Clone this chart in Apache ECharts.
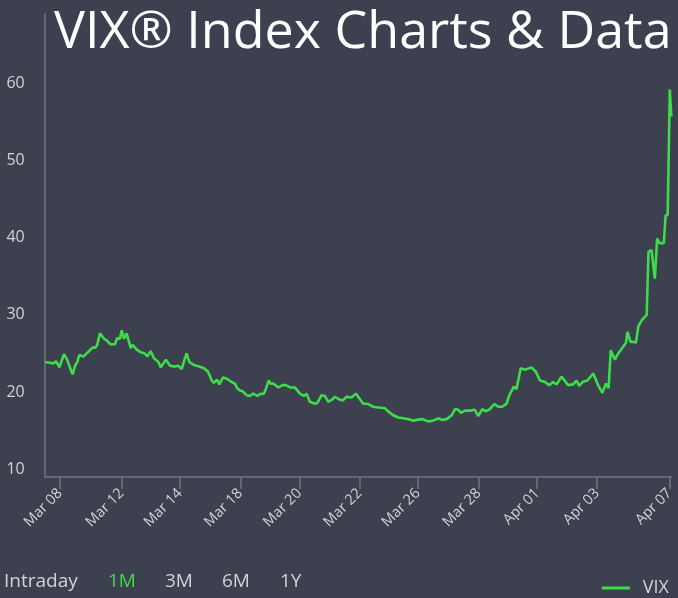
<!DOCTYPE html>
<html>
<head>
<meta charset="utf-8">
<script src="https://cdn.jsdelivr.net/npm/echarts@6/dist/echarts.min.js"></script>
<style>
html,body{margin:0;padding:0;background:#3d404e;}
#chart{width:678px;height:598px;}
</style>
</head>
<body>
<div id="chart"></div>
<script>
// Time in trading days from the start of the window
const times = [
 0.01,0.18,0.29,0.38,0.49,0.64,0.75,0.82,0.93,1.02,1.09,1.15,1.29,1.45,1.60,1.68,1.75,1.84,1.98,2.07,
 2.18,2.34,2.42,2.51,2.57,2.64,2.73,2.79,2.87,2.93,3.07,3.18,3.34,3.42,3.53,3.64,3.79,3.87,4.04,4.18,
 4.34,4.45,4.57,4.64,4.73,4.82,4.98,5.15,5.31,5.45,5.57,5.64,5.75,5.82,5.95,6.09,6.23,6.34,6.42,6.51,
 6.60,6.73,6.84,6.95,7.09,7.18,7.31,7.40,7.47,7.53,7.62,7.79,7.93,8.04,8.18,8.34,8.51,8.64,8.73,8.84,
 9.01,9.09,9.23,9.34,9.45,9.57,9.68,9.79,9.93,10.07,10.23,10.38,10.45,10.62,10.79,10.95,11.12,11.34,11.45,11.62,
 11.79,11.95,12.12,12.29,12.40,12.57,12.73,12.84,13.01,13.12,13.25,13.40,13.57,13.68,13.79,13.88,14.01,14.18,14.34,14.45,
 14.59,14.70,14.84,14.99,15.12,15.25,15.40,15.49,15.64,15.73,15.87,16.01,16.23,16.38,16.51,16.68,16.82,16.95,17.07,17.23,
 17.45,17.62,17.73,17.82,17.93,18.09,18.29,18.45,18.59,18.71,18.80,18.87,19.01,19.12,19.29,19.38,19.43,19.53,19.64,19.71,
 19.79,19.90,20.07,20.13,20.23,20.34,20.42,20.49,20.64,20.70,20.77,20.80,20.84,20.89
];
const vixValues = [
 23.9,23.8,23.7,24.0,23.2,24.9,24.2,23.4,22.3,23.5,23.9,24.8,24.6,25.2,25.8,25.7,26.1,27.6,26.9,26.7,
 26.2,26.2,27.0,26.9,28.0,26.9,27.6,27.5,25.7,26.1,25.5,25.2,25.0,24.6,25.3,24.4,23.9,23.2,24.2,23.4,
 23.3,23.4,23.0,23.9,25.0,23.9,23.5,23.3,23.1,22.6,21.5,21.2,21.6,21.0,21.9,21.7,21.3,21.1,20.5,20.2,
 20.1,19.6,19.5,19.8,19.5,19.75,19.8,20.7,21.5,21.1,21.1,20.6,20.9,20.9,20.6,20.6,19.8,19.5,19.8,18.75,
 18.5,18.6,19.6,19.5,18.75,19.0,19.4,19.1,18.9,19.4,19.3,19.8,19.4,18.5,18.45,18.1,18.0,17.9,17.5,17.0,
 16.7,16.6,16.5,16.3,16.4,16.5,16.3,16.2,16.4,16.6,16.4,16.5,17.0,17.8,17.7,17.3,17.6,17.6,17.7,16.9,
 17.8,17.5,17.8,18.45,18.1,18.1,18.5,19.6,20.7,20.4,23.1,22.9,23.2,22.6,21.5,21.3,20.9,21.3,21.0,22.0,
 20.9,21.0,21.5,20.8,21.3,21.5,22.4,20.9,19.9,21.1,20.5,25.4,24.2,25.0,25.9,26.4,27.8,26.5,26.5,26.4,
 28.5,29.3,30.0,38.2,38.4,34.7,39.9,39.3,39.3,42.9,42.9,43.0,59.2,55.7
];
const tickLabels = ['Mar 08','Mar 12','Mar 14','Mar 18','Mar 20','Mar 22','Mar 26','Mar 28','Apr 01','Apr 03','Apr 07'];
const tickTimes = [0.51,2.57,4.51,6.52,8.49,10.5,12.44,14.47,16.42,18.42,20.83];
const yTicks = [10,20,30,40,50,60];
const rangeButtons = ['Intraday','1M','3M','6M','1Y'];
const activeButton = '1M';
const titleText = 'VIX\u00AE Index Charts & Data';

const GREEN = '#3ddc4a';
const AXIS = '#707380';
const TEXT = '#d2d3d7';

const chart = echarts.init(document.getElementById('chart'), null, {renderer: 'canvas'});

const btnX = [4, 108, 165, 222, 280];
const graphics = [{
  type: 'text', left: 54, top: 7, z: 10,
  style: {text: titleText, fill: '#ffffff', font: '52px "Open Sans"'}
}];
rangeButtons.forEach((b, i) => {
  graphics.push({
    type: 'text', left: btnX[i], top: 572,
    style: {text: b, fill: b === activeButton ? GREEN : TEXT, font: '19px "Open Sans"'}
  });
});

chart.setOption({
  animation: false,
  backgroundColor: '#3d404e',
  grid: {left: 44.7, right: 6.7, top: 13.8, bottom: 121, containLabel: false},
  xAxis: {
    type: 'value', min: 0, max: 20.89,
    axisLine: {show: true, lineStyle: {color: AXIS, width: 1.5}},
    axisTick: {show: true, customValues: tickTimes, length: 12, lineStyle: {color: AXIS, width: 1.5}},
    axisLabel: {
      customValues: tickTimes, rotate: 45, margin: 14, color: TEXT, fontSize: 14.5, fontFamily: 'Open Sans',
      formatter: v => {
        let best = 0;
        tickTimes.forEach((t, i) => { if (Math.abs(t - v) < Math.abs(tickTimes[best] - v)) best = i; });
        return tickLabels[best];
      }
    },
    splitLine: {show: false}
  },
  yAxis: {
    type: 'value', min: 9, max: 69,
    axisLine: {show: true, lineStyle: {color: AXIS, width: 1.5}},
    axisTick: {show: false},
    axisLabel: {customValues: yTicks, margin: 20, color: TEXT, fontSize: 16, fontFamily: 'Open Sans'},
    splitLine: {show: false}
  },
  legend: {
    right: 9, top: 579, padding: 0, icon: 'rect', itemWidth: 28, itemHeight: 3,
    textStyle: {color: TEXT, fontSize: 18, fontFamily: 'Open Sans', padding: [0, 0, 0, 8]},
    data: ['VIX']
  },
  series: [{
    name: 'VIX', type: 'line', showSymbol: false, symbol: 'none',
    data: times.map((t, i) => [t, vixValues[i]]),
    lineStyle: {color: GREEN, width: 2.6},
    itemStyle: {color: GREEN}
  }],
  graphic: graphics
});
</script>
</body>
</html>
